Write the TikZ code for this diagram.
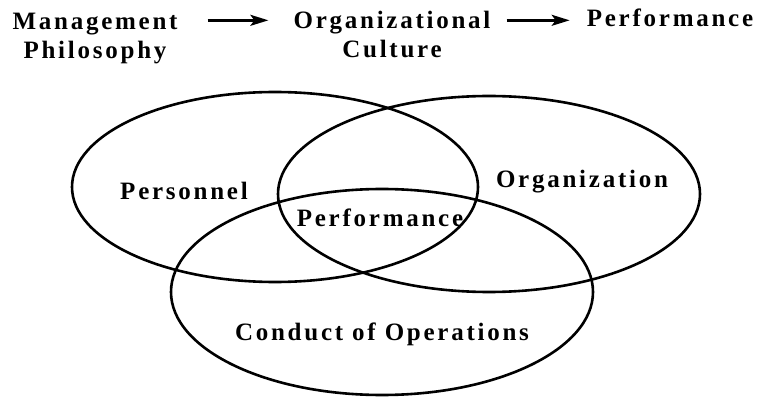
\documentclass[tikz,border=0pt]{standalone}
\usepackage{fontspec}
\setmainfont{Liberation Serif}[LetterSpace=11]
\usetikzlibrary{arrows.meta}
\begin{document}
\begin{tikzpicture}[x=1pt,y=-1pt,
        lbl/.style={font=\fontsize{25}{29}\selectfont\bfseries,inner sep=0pt,anchor=base,align=center},
        arr/.style={line width=2.4pt,-{Stealth[length=18pt,width=11pt,inset=4pt]}},
        ring/.style={line width=2.6pt}]
        \useasboundingbox (0,0) rectangle (758,398);
        %% Ellipses
        \draw[ring] (275,187) ellipse [x radius=203,y radius=95];
        \draw[ring] (489,194) ellipse [x radius=211,y radius=98];
        \draw[ring] (382,292) ellipse [x radius=211,y radius=103];
        %% Labels
        \node[lbl] (mgmt) at (95,59) {Management\\Philosophy};
        \node[lbl] (culture) at (392,58) {Organizational\\Culture};
        \node[lbl] (perf) at (670,27) {Performance};
        \node[lbl] (pers) at (184,200) {Personnel};
        \node[lbl] (org) at (582,188) {Organization};
        \node[lbl] (core) at (380,227) {Performance};
        \node[lbl] (cond) at (382,340) {Conduct of Operations};
        %% Arrows
        \draw[arr] ([xshift=30pt,yshift=-2pt]mgmt.east |- perf.west) -- ([xshift=-25pt,yshift=-2pt]culture.west |- perf.west);
        \draw[arr] ([xshift=16pt,yshift=-2pt]culture.east |- perf.west) -- ([xshift=-17pt,yshift=-2pt]perf.west);
\end{tikzpicture}
\end{document}
